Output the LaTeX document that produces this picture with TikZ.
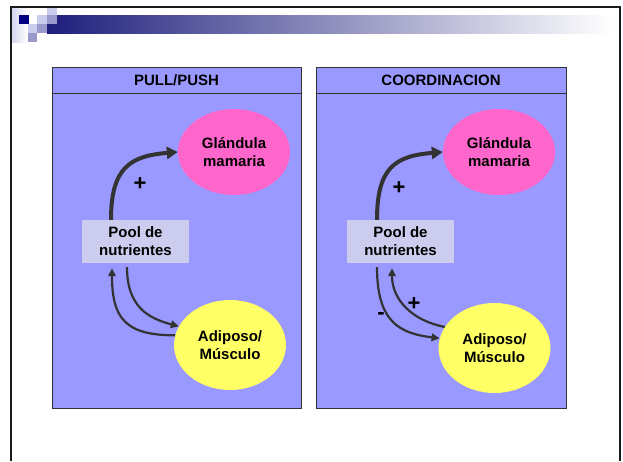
\documentclass[tikz,border=0pt]{standalone}
\usepackage{fontspec}
\setmainfont{Liberation Sans}
\usetikzlibrary{shapes.geometric,arrows.meta,calc}
\definecolor{panel}{HTML}{9999FF}
\definecolor{pinkf}{HTML}{FF66CC}
\definecolor{yellowf}{HTML}{FFFF66}
\definecolor{poolf}{HTML}{CCCCEE}
\definecolor{arrowc}{HTML}{333333}
\definecolor{navysq}{HTML}{000080}
\definecolor{lightsq}{HTML}{CCCCEE}
\definecolor{midsq}{HTML}{9999CC}
\definecolor{barstart}{HTML}{1E1E7C}
\definecolor{framec}{HTML}{1A1A1A}
\begin{document}
\begin{tikzpicture}[x=1pt,y=-1pt,
  txt/.style={font=\fontsize{15}{18}\selectfont\bfseries, align=center, text=black},
  panelbox/.style={rectangle, fill=panel, draw=arrowc, line width=0.8pt, inner sep=0pt},
  gland/.style={ellipse, fill=pinkf, minimum width=112pt, minimum height=86pt, inner sep=0pt, txt},
  adip/.style={ellipse, fill=yellowf, minimum width=112pt, minimum height=90pt, inner sep=0pt, txt},
  poolbox/.style={rectangle, fill=poolf, minimum width=107pt, minimum height=43pt, inner sep=0pt, txt},
  bigarrow/.style={draw=arrowc, line width=4pt, -{Triangle[length=11pt,width=12pt]}},
  thinarrow/.style={draw=arrowc, line width=2.2pt, -{Triangle[length=8pt,width=7.5pt]}},
  sign/.style={font=\fontsize{22}{24}\selectfont\bfseries, text=black, inner sep=0pt},
]
\useasboundingbox (0,0) rectangle (623,461);
\fill[white] (0,0) rectangle (623,461);

% top decoration
\shade[left color=lightsq!80, right color=white] (12,8) rectangle (28,42);
\shade[left color=barstart, right color=white] (47,15) rectangle (612,33);
\fill[navysq] (19,15) rectangle (29,24);
\fill[lightsq] (37,15) rectangle (47,24);
\fill[lightsq] (47,8) rectangle (57,15);
\fill[midsq] (47,15) rectangle (57,24);
\fill[lightsq] (28,24) rectangle (37,33);
\fill[midsq] (37,24) rectangle (47,33);
\fill[midsq] (28,33) rectangle (37,42);
\draw[framec, line width=2.2pt] (11,461) -- (11,7) -- (620,7) -- (620,461);

% left panel
\node[panelbox, minimum width=249pt, minimum height=315pt] (bodyL) at (176.5,250.5) {};
\node[panelbox, txt, minimum width=249pt, minimum height=26pt] (hdrL) at (176.5,80) {PULL/PUSH};
\node[gland] (glL) at (234,152) {Glándula\\mamaria};
\node[adip] (adL) at (230,345) {Adiposo/\\Músculo};
\node[poolbox] (poolL) at (135.5,241.5) {Pool de\\nutrientes};

% right panel
\node[panelbox, minimum width=250pt, minimum height=315pt] (bodyR) at (441,250.5) {};
\node[panelbox, txt, minimum width=250pt, minimum height=26pt] (hdrR) at (441,80) {COORDINACION};
\node[gland] (glR) at (499,152) {Glándula\\mamaria};
\node[adip] (adR) at (494.5,348) {Adiposo/\\Músculo};
\node[poolbox] (poolR) at (400.5,241.5) {Pool de\\nutrientes};

% left arrows
\coordinate (sL) at ($(poolL.north)+(-24.5,0)$);
\draw[bigarrow] (sL) .. controls +(0,-52) and +(-48,4) .. (glL.west);
\coordinate (dL) at ($(poolL.south)+(-8.5,4)$);
\draw[thinarrow] (dL) .. controls +(0,40) and +(-30,-8) .. (adL.160);
\coordinate (uL) at ($(poolL.south)+(-23.5,5)$);
\draw[thinarrow] (adL.170) .. controls +(-50,0) and +(0,50) .. (uL);
\node[sign] (pL) at (140,184) {+};

% right arrows
\coordinate (sR) at ($(poolR.north)+(-23.5,0)$);
\draw[bigarrow] (sR) .. controls +(0,-52) and +(-48,4) .. (glR.west);
\coordinate (dR) at ($(poolR.south)+(-23.5,4)$);
\draw[thinarrow] (dR) .. controls +(0,55) and +(-40,-5) .. (adR.170);
\coordinate (uR) at ($(poolR.south)+(-8.5,5)$);
\draw[thinarrow] (adR.157) .. controls +(-32,-6) and +(0,32) .. (uR);
\node[sign] (p1R) at (399,188) {+};
\node[sign] (p2R) at (414,304) {+};
\node[sign] (mR) at (381,316) {-};
\end{tikzpicture}
\end{document}
